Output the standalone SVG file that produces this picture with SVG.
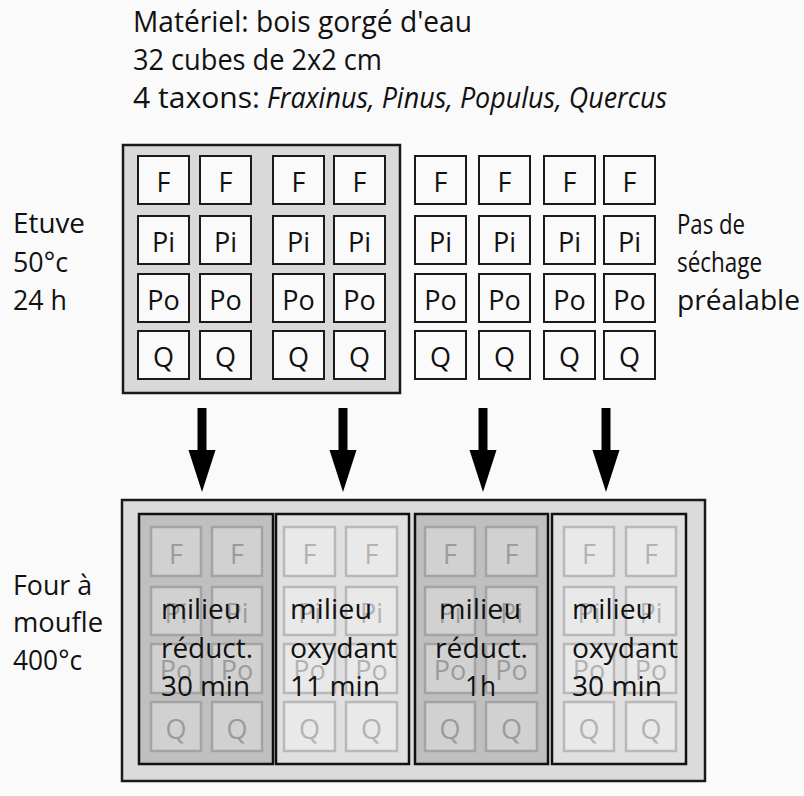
<svg xmlns="http://www.w3.org/2000/svg" xmlns:xlink="http://www.w3.org/1999/xlink" width="804" height="796" viewBox="0 0 804 796">
<style>
text{font-family:"Open Sans","Liberation Sans",sans-serif;fill:#111}
.lbl{font-size:28px}
.top{font-size:30px}
.it{font-style:italic}
.box{fill:#d9d9d9;stroke:#1a1a1a;stroke-width:2.5}
.cube{fill:#fafafa;stroke:#1a1a1a;stroke-width:2}
.cl{font-size:27px;text-anchor:middle}
.outer{fill:#dbdbdb;stroke:#1a1a1a;stroke-width:2.5}
.pd{fill:#bfbfbf;stroke:#111;stroke-width:2.5}
.pl{fill:#e0e0e0;stroke:#111;stroke-width:2.5}
.fd{fill:#d1d1d1;stroke:#a3a3a3;stroke-width:2.5}
.fl{fill:#e9e9e9;stroke:#b8b8b8;stroke-width:2.5}
.td{font-size:27px;text-anchor:middle;fill:#9b9b9b}
.tl{font-size:27px;text-anchor:middle;fill:#b2b2b2}
.arrow{fill:#000}
</style>
<rect width="804" height="796" fill="#fafafa"/>

<g id="title">
<text class="top" x="133" y="32" textLength="339" lengthAdjust="spacingAndGlyphs">Matériel: bois gorgé d'eau</text>
<text class="top" x="133" y="70" textLength="249" lengthAdjust="spacingAndGlyphs">32 cubes de 2x2 cm</text>
<text class="top" x="133" y="108" textLength="127" lengthAdjust="spacingAndGlyphs">4 taxons:</text>
<text class="top it" x="267" y="108" textLength="400" lengthAdjust="spacingAndGlyphs">Fraxinus, Pinus, Populus, Quercus</text>
</g>

<g id="label-etuve">
<text class="lbl" x="13" y="233" textLength="72" lengthAdjust="spacingAndGlyphs">Etuve</text>
<text class="lbl" x="13" y="272" textLength="55" lengthAdjust="spacingAndGlyphs">50°c</text>
<text class="lbl" x="13" y="310" textLength="54" lengthAdjust="spacingAndGlyphs">24 h</text>
</g>

<g id="label-pas-de-sechage">
<text class="lbl" x="677" y="234" textLength="68" lengthAdjust="spacingAndGlyphs">Pas de</text>
<text class="lbl" x="677" y="272" textLength="85" lengthAdjust="spacingAndGlyphs">séchage</text>
<text class="lbl" x="677" y="310" textLength="123" lengthAdjust="spacingAndGlyphs">préalable</text>
</g>

<g id="label-four">
<text class="lbl" x="13" y="595" textLength="79" lengthAdjust="spacingAndGlyphs">Four à</text>
<text class="lbl" x="13" y="632" textLength="90" lengthAdjust="spacingAndGlyphs">moufle</text>
<text class="lbl" x="13" y="670" textLength="69" lengthAdjust="spacingAndGlyphs">400°c</text>
</g>

<g id="etuve-tray">
<rect class="box" x="123" y="145" width="277" height="248"/>
<g id="cubes-dried">
<rect class="cube" x="138" y="156" width="51" height="48"/><rect class="cube" x="200" y="156" width="51" height="48"/><rect class="cube" x="273" y="156" width="51" height="48"/><rect class="cube" x="334" y="156" width="51" height="48"/>
<rect class="cube" x="138" y="216" width="51" height="48"/><rect class="cube" x="200" y="216" width="51" height="48"/><rect class="cube" x="273" y="216" width="51" height="48"/><rect class="cube" x="334" y="216" width="51" height="48"/>
<rect class="cube" x="138" y="274" width="51" height="48"/><rect class="cube" x="200" y="274" width="51" height="48"/><rect class="cube" x="273" y="274" width="51" height="48"/><rect class="cube" x="334" y="274" width="51" height="48"/>
<rect class="cube" x="138" y="331" width="51" height="48"/><rect class="cube" x="200" y="331" width="51" height="48"/><rect class="cube" x="273" y="331" width="51" height="48"/><rect class="cube" x="334" y="331" width="51" height="48"/>
<text class="cl" x="163.5" y="192">F</text><text class="cl" x="225.5" y="192">F</text><text class="cl" x="298.5" y="192">F</text><text class="cl" x="359.5" y="192">F</text>
<text class="cl" x="163.5" y="252">Pi</text><text class="cl" x="225.5" y="252">Pi</text><text class="cl" x="298.5" y="252">Pi</text><text class="cl" x="359.5" y="252">Pi</text>
<text class="cl" x="163.5" y="310">Po</text><text class="cl" x="225.5" y="310">Po</text><text class="cl" x="298.5" y="310">Po</text><text class="cl" x="359.5" y="310">Po</text>
<text class="cl" x="163.5" y="367">Q</text><text class="cl" x="225.5" y="367">Q</text><text class="cl" x="298.5" y="367">Q</text><text class="cl" x="359.5" y="367">Q</text>
</g>
</g>

<g id="undried-cubes">
<rect class="cube" x="415" y="156" width="51" height="48"/><rect class="cube" x="479" y="156" width="51" height="48"/><rect class="cube" x="544" y="156" width="51" height="48"/><rect class="cube" x="604" y="156" width="51" height="48"/>
<rect class="cube" x="415" y="216" width="51" height="48"/><rect class="cube" x="479" y="216" width="51" height="48"/><rect class="cube" x="544" y="216" width="51" height="48"/><rect class="cube" x="604" y="216" width="51" height="48"/>
<rect class="cube" x="415" y="274" width="51" height="48"/><rect class="cube" x="479" y="274" width="51" height="48"/><rect class="cube" x="544" y="274" width="51" height="48"/><rect class="cube" x="604" y="274" width="51" height="48"/>
<rect class="cube" x="415" y="331" width="51" height="48"/><rect class="cube" x="479" y="331" width="51" height="48"/><rect class="cube" x="544" y="331" width="51" height="48"/><rect class="cube" x="604" y="331" width="51" height="48"/>
<text class="cl" x="440.5" y="192">F</text><text class="cl" x="504.5" y="192">F</text><text class="cl" x="569.5" y="192">F</text><text class="cl" x="629.5" y="192">F</text>
<text class="cl" x="440.5" y="252">Pi</text><text class="cl" x="504.5" y="252">Pi</text><text class="cl" x="569.5" y="252">Pi</text><text class="cl" x="629.5" y="252">Pi</text>
<text class="cl" x="440.5" y="310">Po</text><text class="cl" x="504.5" y="310">Po</text><text class="cl" x="569.5" y="310">Po</text><text class="cl" x="629.5" y="310">Po</text>
<text class="cl" x="440.5" y="367">Q</text><text class="cl" x="504.5" y="367">Q</text><text class="cl" x="569.5" y="367">Q</text><text class="cl" x="629.5" y="367">Q</text>
</g>

<g id="connectors">
<path class="arrow" d="M197.5,408 H206.5 V450 H215.5 L202,492 L188.5,450 H197.5 Z"/>
<path class="arrow" d="M338.5,408 H347.5 V450 H356.5 L343,492 L329.5,450 H338.5 Z"/>
<path class="arrow" d="M478.5,408 H487.5 V450 H496.5 L483,492 L469.5,450 H478.5 Z"/>
<path class="arrow" d="M601.5,408 H610.5 V450 H619.5 L606,492 L592.5,450 H601.5 Z"/>
</g>

<g id="four-a-moufle">
<rect class="outer" x="122" y="500" width="583" height="281"/>
</g>

<g id="panel-reduct-30">
<rect class="pd" x="139" y="514" width="134" height="250"/>
<rect class="fd" x="151" y="527" width="50" height="49"/><rect class="fd" x="212" y="527" width="50" height="49"/>
<rect class="fd" x="151" y="587" width="50" height="48"/><rect class="fd" x="212" y="587" width="50" height="48"/>
<rect class="fd" x="151" y="644" width="50" height="49"/><rect class="fd" x="212" y="644" width="50" height="49"/>
<rect class="fd" x="151" y="702" width="50" height="49"/><rect class="fd" x="212" y="702" width="50" height="49"/>
<text class="td" x="176" y="564">F</text><text class="td" x="237" y="564">F</text>
<text class="td" x="176" y="623">Pi</text><text class="td" x="237" y="623">Pi</text>
<text class="td" x="176" y="680">Po</text><text class="td" x="237" y="680">Po</text>
<text class="td" x="176" y="739">Q</text><text class="td" x="237" y="739">Q</text>
<text class="lbl" x="161" y="619" textLength="80" lengthAdjust="spacingAndGlyphs">milieu</text>
<text class="lbl" x="161" y="658" textLength="92" lengthAdjust="spacingAndGlyphs">réduct.</text>
<text class="lbl" x="161" y="696" textLength="89" lengthAdjust="spacingAndGlyphs">30 min</text>
</g>

<g id="panel-oxyd-11">
<rect class="pl" x="276" y="514" width="133" height="250"/>
<rect class="fl" x="284" y="527" width="51" height="49"/><rect class="fl" x="346" y="527" width="51" height="49"/>
<rect class="fl" x="284" y="587" width="51" height="48"/><rect class="fl" x="346" y="587" width="51" height="48"/>
<rect class="fl" x="284" y="644" width="51" height="49"/><rect class="fl" x="346" y="644" width="51" height="49"/>
<rect class="fl" x="284" y="702" width="51" height="49"/><rect class="fl" x="346" y="702" width="51" height="49"/>
<text class="tl" x="309.5" y="564">F</text><text class="tl" x="371.5" y="564">F</text>
<text class="tl" x="309.5" y="623">Pi</text><text class="tl" x="371.5" y="623">Pi</text>
<text class="tl" x="309.5" y="680">Po</text><text class="tl" x="371.5" y="680">Po</text>
<text class="tl" x="309.5" y="739">Q</text><text class="tl" x="371.5" y="739">Q</text>
<text class="lbl" x="290" y="619" textLength="82" lengthAdjust="spacingAndGlyphs">milieu</text>
<text class="lbl" x="290" y="658" textLength="107" lengthAdjust="spacingAndGlyphs">oxydant</text>
<text class="lbl" x="290" y="696" textLength="90" lengthAdjust="spacingAndGlyphs">11 min</text>
</g>

<g id="panel-reduct-1h">
<rect class="pd" x="415" y="514" width="133" height="250"/>
<rect class="fd" x="425" y="527" width="50" height="49"/><rect class="fd" x="486" y="527" width="51" height="49"/>
<rect class="fd" x="425" y="587" width="50" height="48"/><rect class="fd" x="486" y="587" width="51" height="48"/>
<rect class="fd" x="425" y="644" width="50" height="49"/><rect class="fd" x="486" y="644" width="51" height="49"/>
<rect class="fd" x="425" y="702" width="50" height="49"/><rect class="fd" x="486" y="702" width="51" height="49"/>
<text class="td" x="450" y="564">F</text><text class="td" x="511.5" y="564">F</text>
<text class="td" x="450" y="623">Pi</text><text class="td" x="511.5" y="623">Pi</text>
<text class="td" x="450" y="680">Po</text><text class="td" x="511.5" y="680">Po</text>
<text class="td" x="450" y="739">Q</text><text class="td" x="511.5" y="739">Q</text>
<text class="lbl" x="439" y="619" textLength="82" lengthAdjust="spacingAndGlyphs">milieu</text>
<text class="lbl" x="435" y="658" textLength="93" lengthAdjust="spacingAndGlyphs">réduct.</text>
<text class="lbl" x="465" y="696" textLength="31" lengthAdjust="spacingAndGlyphs">1h</text>
</g>

<g id="panel-oxyd-30">
<rect class="pl" x="552" y="514" width="134" height="250"/>
<rect class="fl" x="564" y="527" width="50" height="49"/><rect class="fl" x="626" y="527" width="50" height="49"/>
<rect class="fl" x="564" y="587" width="50" height="48"/><rect class="fl" x="626" y="587" width="50" height="48"/>
<rect class="fl" x="564" y="644" width="50" height="49"/><rect class="fl" x="626" y="644" width="50" height="49"/>
<rect class="fl" x="564" y="702" width="50" height="49"/><rect class="fl" x="626" y="702" width="50" height="49"/>
<text class="tl" x="589" y="564">F</text><text class="tl" x="651" y="564">F</text>
<text class="tl" x="589" y="623">Pi</text><text class="tl" x="651" y="623">Pi</text>
<text class="tl" x="589" y="680">Po</text><text class="tl" x="651" y="680">Po</text>
<text class="tl" x="589" y="739">Q</text><text class="tl" x="651" y="739">Q</text>
<text class="lbl" x="572" y="619" textLength="81" lengthAdjust="spacingAndGlyphs">milieu</text>
<text class="lbl" x="572" y="658" textLength="106" lengthAdjust="spacingAndGlyphs">oxydant</text>
<text class="lbl" x="572" y="696" textLength="90" lengthAdjust="spacingAndGlyphs">30 min</text>
</g>
</svg>
